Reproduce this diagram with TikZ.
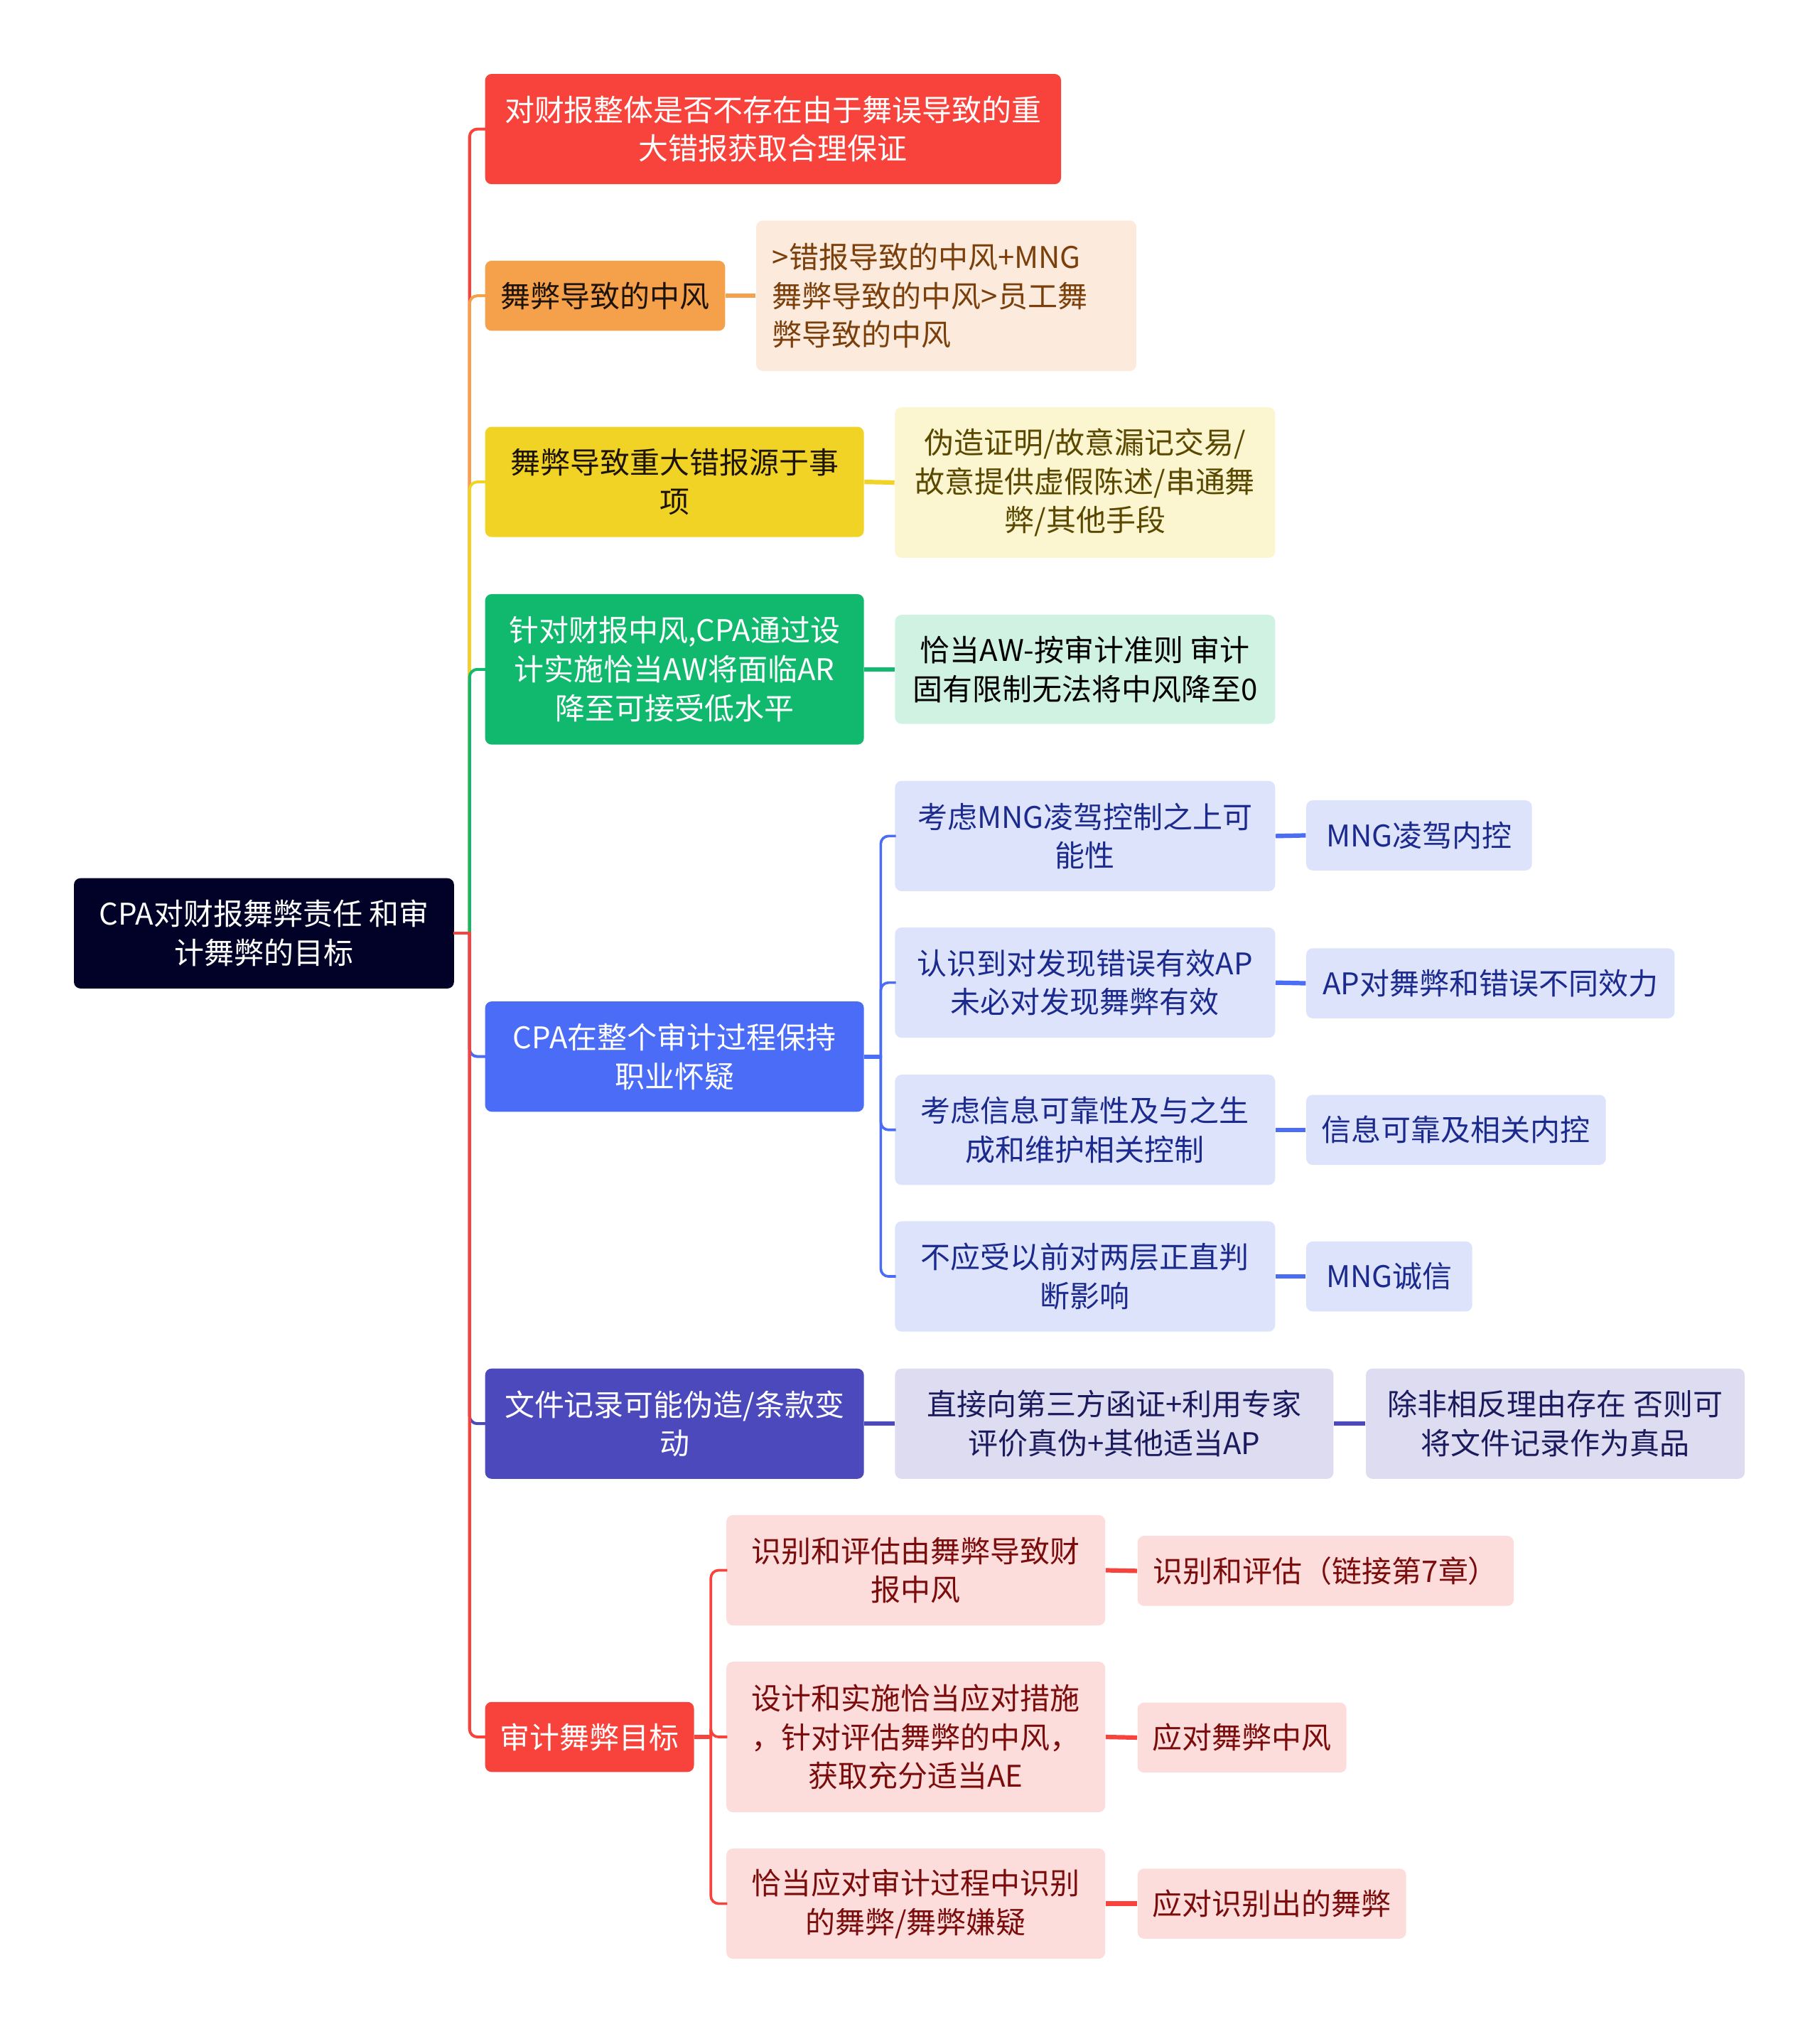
\documentclass[tikz,border=0pt]{standalone}
\usepackage{fontspec}
\setmainfont{Noto Sans CJK SC}
\usetikzlibrary{positioning}

\definecolor{cRoot}{HTML}{020228}
\definecolor{cRed}{HTML}{F7433B}
\definecolor{cOrange}{HTML}{F5A04B}
\definecolor{cYellow}{HTML}{F0D324}
\definecolor{cGreen}{HTML}{10B96D}
\definecolor{cBlue}{HTML}{4A6CF7}
\definecolor{cPurple}{HTML}{4C49BD}
\definecolor{lOrange}{HTML}{FCEBDC}
\definecolor{lYellow}{HTML}{FBF5D0}
\definecolor{lGreen}{HTML}{D0F2E3}
\definecolor{lBlue}{HTML}{DCE3FB}
\definecolor{lPurple}{HTML}{DDDCF1}
\definecolor{lRed}{HTML}{FDDCDC}
\definecolor{tOrange}{HTML}{7B3F0C}
\definecolor{tYellow}{HTML}{5A4800}
\definecolor{tBlue}{HTML}{1B2A8C}
\definecolor{tPurple}{HTML}{1A1A5C}
\definecolor{tRed}{HTML}{7A0C0C}

\begin{document}
\begin{tikzpicture}[x=0.5pt,y=-0.5pt,
  box/.style={rounded corners=2.5pt, inner sep=0pt, align=center,
    font=\fontsize{11.5}{15}\selectfont},
  trunk/.style={line width=1.1pt, line cap=rect},
  brace/.style={line width=1pt, line cap=rect},
  link/.style={line width=1.7pt}]
\useasboundingbox (0,0) rectangle (1403,1568);

% root
\node[box, fill=cRoot, text=white, minimum width=146.5pt, minimum height=42.5pt]
  (root) at (203.5,719.5) {CPA对财报舞弊责任 和审\\计舞弊的目标};

% first level
\node[box, fill=cRed, text=white, minimum width=222pt, minimum height=42.5pt]
  (a1) at (596,99.5) {对财报整体是否不存在由于舞误导致的重\\大错报获取合理保证};
\node[box, fill=cOrange, text=black!85!brown, minimum width=92.5pt, minimum height=27pt]
  (a2) at (466.5,228) {舞弊导致的中风};
\node[box, fill=cYellow, text=black!85!brown, minimum width=146pt, minimum height=42.5pt]
  (a3) at (520,371.5) {舞弊导致重大错报源于事\\项};
\node[box, fill=cGreen, text=white, minimum width=146pt, minimum height=58pt]
  (a4) at (520,516) {针对财报中风,CPA通过设\\计实施恰当AW将面临AR\\降至可接受低水平};
\node[box, fill=cBlue, text=white, minimum width=146pt, minimum height=42.5pt]
  (a5) at (520,814.5) {CPA在整个审计过程保持\\职业怀疑};
\node[box, fill=cPurple, text=white, minimum width=146pt, minimum height=42.5pt]
  (a6) at (520,1097.5) {文件记录可能伪造/条款变\\动};
\node[box, fill=cRed, text=white, minimum width=80.5pt, minimum height=27pt]
  (a7) at (454.5,1339) {审计舞弊目标};

% second level
\node[box, fill=lOrange, text=tOrange, align=left, text width=134pt,
  minimum width=146.5pt, minimum height=58pt]
  (a2x) at (729.5,228) {>错报导致的中风+MNG\\舞弊导致的中风>员工舞\\弊导致的中风};
\node[box, fill=lYellow, text=tYellow, minimum width=146.5pt, minimum height=58pt]
  (a3x) at (836.5,372) {伪造证明/故意漏记交易/\\故意提供虚假陈述/串通舞\\弊/其他手段};
\node[box, fill=lGreen, text=black, minimum width=146.5pt, minimum height=42pt]
  (a4x) at (836.5,516) {恰当AW-按审计准则 审计\\固有限制无法将中风降至0};

\node[box, fill=lBlue, text=tBlue, minimum width=146.5pt, minimum height=42.5pt]
  (b1) at (836.5,644.5) {考虑MNG凌驾控制之上可\\能性};
\node[box, fill=lBlue, text=tBlue, minimum width=146.5pt, minimum height=42.5pt]
  (b2) at (836.5,757.5) {认识到对发现错误有效AP\\未必对发现舞弊有效};
\node[box, fill=lBlue, text=tBlue, minimum width=146.5pt, minimum height=42.5pt]
  (b3) at (836.5,871) {考虑信息可靠性及与之生\\成和维护相关控制};
\node[box, fill=lBlue, text=tBlue, minimum width=146.5pt, minimum height=42.5pt]
  (b4) at (836.5,984) {不应受以前对两层正直判\\断影响};

\node[box, fill=lPurple, text=tPurple, minimum width=169pt, minimum height=42.5pt]
  (a6x) at (859,1097.5) {直接向第三方函证+利用专家\\评价真伪+其他适当AP};

\node[box, fill=lRed, text=tRed, minimum width=146pt, minimum height=42.5pt]
  (c1) at (706,1210.5) {识别和评估由舞弊导致财\\报中风};
\node[box, fill=lRed, text=tRed, minimum width=146pt, minimum height=58pt]
  (c2) at (706,1339) {设计和实施恰当应对措施\\，针对评估舞弊的中风，\\获取充分适当AE};
\node[box, fill=lRed, text=tRed, minimum width=146pt, minimum height=42.5pt]
  (c3) at (706,1467.5) {恰当应对审计过程中识别\\的舞弊/舞弊嫌疑};

% third level
\node[box, fill=lBlue, text=tBlue, minimum width=87pt, minimum height=27pt]
  (b1x) at (1094,644) {MNG凌驾内控};
\node[box, fill=lBlue, text=tBlue, minimum width=142pt, minimum height=27pt]
  (b2x) at (1149,758) {AP对舞弊和错误不同效力};
\node[box, fill=lBlue, text=tBlue, minimum width=115.5pt, minimum height=27pt]
  (b3x) at (1122.5,871) {信息可靠及相关内控};
\node[box, fill=lBlue, text=tBlue, minimum width=64pt, minimum height=27pt]
  (b4x) at (1071,984) {MNG诚信};
\node[box, fill=lPurple, text=tPurple, minimum width=146pt, minimum height=42.5pt]
  (a6y) at (1199,1097.5) {除非相反理由存在 否则可\\将文件记录作为真品};
\node[box, fill=lRed, text=tRed, minimum width=145pt, minimum height=27pt]
  (c1x) at (1022,1211) {识别和评估（链接第7章）};
\node[box, fill=lRed, text=tRed, minimum width=80.5pt, minimum height=27pt]
  (c2x) at (957.5,1339.5) {应对舞弊中风};
\node[box, fill=lRed, text=tRed, minimum width=103.5pt, minimum height=27pt]
  (c3x) at (980.5,1467.5) {应对识别出的舞弊};

% connectors
\coordinate (rootJ) at (362,719.5);
\coordinate (a5J) at (679,814.5);
\coordinate (a7J) at (548,1339);

\foreach \n/\c in {a1/cRed,a2/cOrange,a3/cYellow,a4/cGreen,a5/cBlue,a6/cPurple,a7/cRed}{
  \draw[trunk,\c] (root.east) -- (rootJ);
  \draw[trunk,\c,rounded corners=3pt] (rootJ) |- (\n.west);
}

\draw[link,cOrange] (a2.east) -- (a2x.west);
\draw[link,cYellow] (a3.east) -- (a3x.west);
\draw[link,cGreen] (a4.east) -- (a4x.west);

\draw[link,cBlue] (a5.east) -- (a5J);
\foreach \n in {1,...,4}{
  \draw[brace,cBlue,rounded corners=3pt] (a5J) |- (b\n.west);
  \draw[link,cBlue] (b\n.east) -- (b\n x.west);
}

\draw[link,cPurple] (a6.east) -- (a6x.west);
\draw[link,cPurple] (a6x.east) -- (a6y.west);

\draw[link,cRed] (a7.east) -- (a7J);
\foreach \n in {1,2,3}{
  \draw[brace,cRed,rounded corners=3pt] (a7J) |- (c\n.west);
  \draw[link,cRed] (c\n.east) -- (c\n x.west);
}
\end{tikzpicture}
\end{document}
